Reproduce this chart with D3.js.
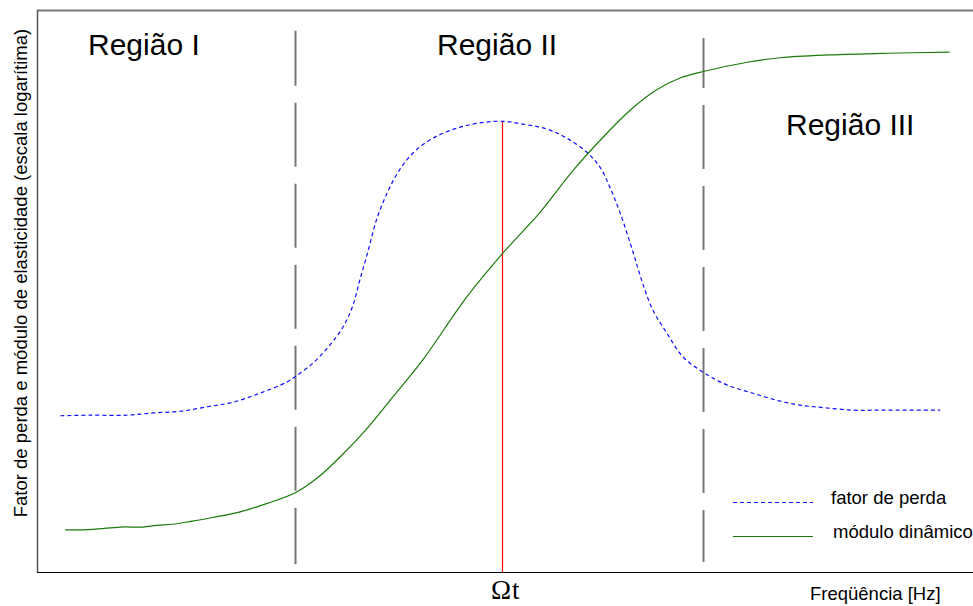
<!DOCTYPE html>
<html>
<head>
<meta charset="utf-8">
<script src="https://cdn.jsdelivr.net/npm/d3@7"></script>
<style>
  html, body { margin: 0; padding: 0; background: #fff; }
  svg { display: block; font-family: "Liberation Sans", Arial, sans-serif; }
</style>
</head>
<body>
<svg id="chart" width="973" height="606"></svg>
<script>
// log-frequency (arbitrary decades) and log-magnitude (arbitrary units)
const lossX = [0.25, 0.57, 0.96, 1.24, 1.53, 1.82, 2.09, 2.38, 2.67, 2.77, 2.95, 3.13, 3.27, 3.37, 3.45, 3.54,
  3.63, 3.74, 3.86, 4.02, 4.23, 4.49, 4.73, 4.97, 5.19, 5.45, 5.66, 5.88, 6.02, 6.12, 6.23, 6.37, 6.47, 6.58,
  6.73, 6.90, 7.13, 7.37, 7.65, 7.94, 8.15, 8.37, 8.72, 9.01, 9.65];
const lossY = [2.78, 2.79, 2.79, 2.83, 2.86, 2.94, 3.02, 3.18, 3.38, 3.49, 3.72, 4.04, 4.36, 4.72, 5.20, 5.73,
  6.28, 6.74, 7.12, 7.46, 7.72, 7.90, 7.99, 8.02, 7.97, 7.88, 7.72, 7.46, 7.19, 6.85, 6.39, 5.68, 5.14, 4.66,
  4.25, 3.83, 3.54, 3.33, 3.18, 3.04, 2.97, 2.93, 2.88, 2.88, 2.88];

const modX = [0.30, 0.60, 0.89, 1.13, 1.28, 1.45, 1.60, 1.88, 2.17, 2.46, 2.77, 3.00, 3.24, 3.53, 3.80, 4.12,
  4.59, 4.97, 5.37, 5.73, 6.05, 6.34, 6.62, 6.87, 7.13, 7.59, 7.94, 8.47, 9.08, 9.75];
const modY = [0.75, 0.76, 0.80, 0.80, 0.83, 0.85, 0.89, 0.97, 1.07, 1.22, 1.42, 1.68, 2.05, 2.56, 3.11, 3.77,
  4.89, 5.66, 6.39, 7.15, 7.74, 8.22, 8.58, 8.79, 8.91, 9.07, 9.15, 9.20, 9.23, 9.25];

// region boundaries and transition frequency
const boundaries = [2.77, 7.13];
const boundaryTop = [9.63, 9.50];
const boundaryBottom = [0.14, 0.18];
const transition = 4.97;

const regionLabels = ["Região I", "Região II", "Região III"];
const legendLabels = ["fator de perda", "módulo dinâmico"];
const yTitle = "Fator de perda e módulo de elasticidade (escala logarítima)";
const xTitle = "Freqüência [Hz]";

const margin = {top: 10, right: 0, bottom: 34, left: 37};
const width = 973 - margin.left - margin.right;
const height = 606 - margin.top - margin.bottom;

const svg = d3.select("#chart");
const g = svg.append("g")
    .attr("transform", `translate(${margin.left},${margin.top})`);

const x = d3.scaleLinear().domain([0, 10]).range([0, width]);
const y = d3.scaleLinear().domain([0, 10]).range([height, 0]);

// frame
g.append("line")
    .attr("x1", 0).attr("x2", width)
    .attr("y1", 0.5).attr("y2", 0.5)
    .attr("stroke", "#777").attr("stroke-width", 2);
g.append("line")
    .attr("x1", 0).attr("x2", width)
    .attr("y1", height + 0.5).attr("y2", height + 0.5)
    .attr("stroke", "#000").attr("stroke-width", 1);
g.append("line")
    .attr("x1", 0.5).attr("x2", 0.5)
    .attr("y1", 0).attr("y2", height)
    .attr("stroke", "#555").attr("stroke-width", 1.5);

// region boundaries
g.selectAll(".boundary")
  .data(boundaries)
  .join("line")
    .attr("class", "boundary")
    .attr("x1", d => Math.round(x(d)) - 0.5)
    .attr("x2", d => Math.round(x(d)) - 0.5)
    .attr("y1", (d, i) => y(boundaryTop[i]))
    .attr("y2", (d, i) => y(boundaryBottom[i]))
    .attr("stroke", "#777")
    .attr("stroke-width", 2)
    .attr("stroke-dasharray", "64 17")
    .attr("stroke-dashoffset", (d, i) => i === 0 ? 9 : 14);

// transition line
g.append("line")
    .attr("x1", Math.round(x(transition)) + 0.5)
    .attr("x2", Math.round(x(transition)) + 0.5)
    .attr("y1", y(d3.max(lossY)))
    .attr("y2", height)
    .attr("stroke", "#ff0000")
    .attr("stroke-width", 1.2);

const line = d3.line()
    .x(d => x(d[0]))
    .y(d => y(d[1]))
    .curve(d3.curveCatmullRom.alpha(0.5));

g.append("path")
    .datum(d3.zip(lossX, lossY))
    .attr("d", line)
    .attr("fill", "none")
    .attr("stroke", "#1010ff")
    .attr("stroke-width", 1.2)
    .attr("stroke-dasharray", "4 3");

g.append("path")
    .datum(d3.zip(modX, modY))
    .attr("d", line)
    .attr("fill", "none")
    .attr("stroke", "#1a7a0a")
    .attr("stroke-width", 1.2);

// region labels
const regionPos = [[88, 55], [437, 55], [786, 135]];
svg.selectAll(".region")
  .data(regionLabels)
  .join("text")
    .attr("class", "region")
    .attr("x", (d, i) => regionPos[i][0])
    .attr("y", (d, i) => regionPos[i][1])
    .attr("font-size", 30)
    .attr("fill", "#000")
    .text(d => d);

// legend
const legend = svg.append("g").attr("transform", "translate(733,502)");
const legendItems = legend.selectAll(".item")
  .data(legendLabels)
  .join("g")
    .attr("class", "item")
    .attr("transform", (d, i) => `translate(0,${i * 34})`);
legendItems.append("line")
    .attr("x1", 0).attr("x2", 80)
    .attr("y1", 0.5).attr("y2", 0.5)
    .attr("stroke", (d, i) => i === 0 ? "#1010ff" : "#1a7a0a")
    .attr("stroke-width", 1.2)
    .attr("stroke-dasharray", (d, i) => i === 0 ? "4 3" : null);
legendItems.append("text")
    .attr("x", (d, i) => i === 0 ? 98 : 100)
    .attr("y", 2)
    .attr("font-size", 18.5)
    .text(d => d);

// axis titles
svg.append("text")
    .attr("transform", "translate(27,273) rotate(-90)")
    .attr("text-anchor", "middle")
    .attr("font-size", 18.5)
    .text(yTitle);

svg.append("text")
    .attr("x", 810)
    .attr("y", 600)
    .attr("font-size", 18.5)
    .text(xTitle);

// transition frequency label
const omega = svg.append("text")
    .attr("x", margin.left + x(transition) + 3)
    .attr("y", 599)
    .attr("text-anchor", "middle")
    .attr("font-family", "'Liberation Serif', 'Times New Roman', serif")
    .attr("font-size", 27);
omega.append("tspan").text("Ω");
omega.append("tspan").attr("dx", 1).text("t");
</script>
</body>
</html>
